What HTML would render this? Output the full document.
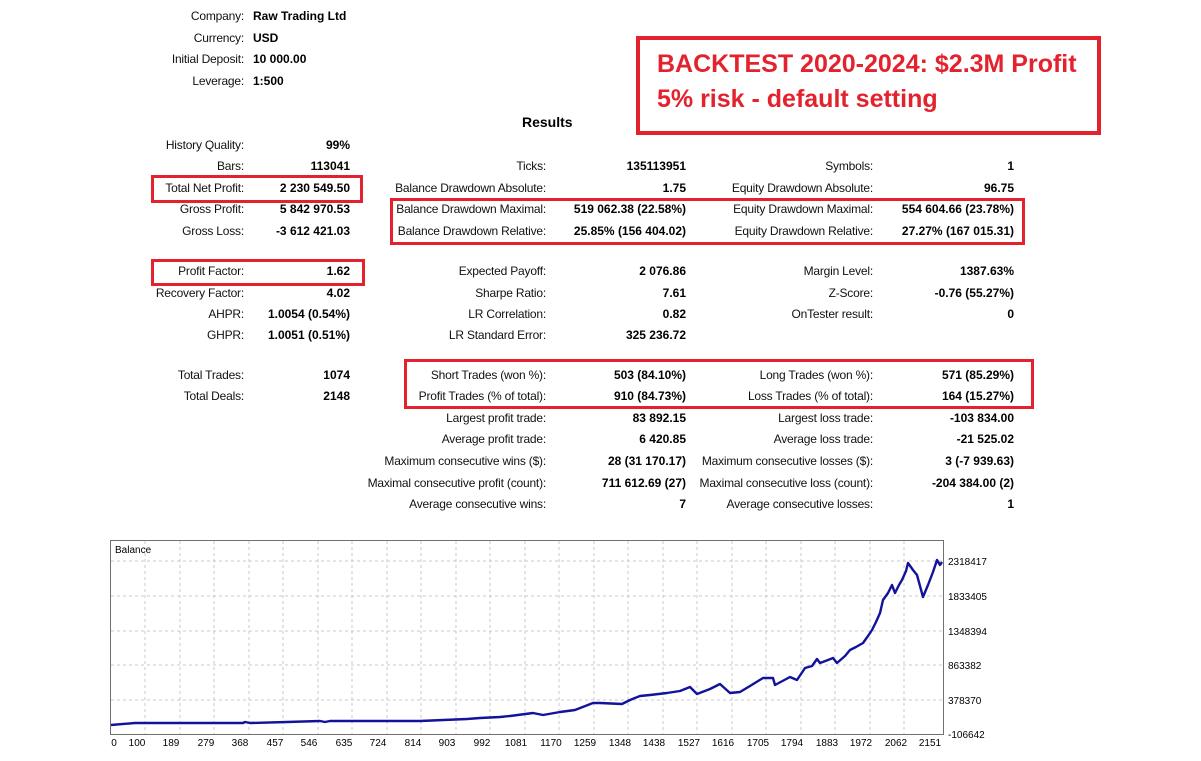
<!DOCTYPE html>
<html><head><meta charset="utf-8"><style>
body{margin:0;width:1201px;height:761px;background:#fff;position:relative;overflow:hidden;font-family:"Liberation Sans",Tahoma,sans-serif;font-size:12px;color:#000}
.l,.v{position:absolute;white-space:nowrap;text-align:right;line-height:14px}
.l{letter-spacing:-0.2px;color:#111}
.v{font-weight:bold}
.box{position:absolute;border:3px solid #e3222e;box-sizing:border-box}
</style></head><body>
<div class="l" style="right:957px;top:9px">Company:</div><div class="v" style="left:253px;top:9px;text-align:left">Raw Trading Ltd</div>
<div class="l" style="right:957px;top:31px">Currency:</div><div class="v" style="left:253px;top:31px;text-align:left">USD</div>
<div class="l" style="right:957px;top:52px">Initial Deposit:</div><div class="v" style="left:253px;top:52px;text-align:left">10 000.00</div>
<div class="l" style="right:957px;top:74px">Leverage:</div><div class="v" style="left:253px;top:74px;text-align:left">1:500</div>
<div class="v" style="left:522px;top:115px;font-size:14px;text-align:left">Results</div>

<div class="box" style="left:636px;top:36px;width:465px;height:99px;border-width:4px"></div>
<div style="position:absolute;left:657px;top:47px;color:#e3222e;font-weight:bold;font-size:25px;line-height:35px;font-family:'Liberation Sans',sans-serif">BACKTEST 2020-2024: $2.3M Profit<br>5% risk - default setting</div>

<div class="box" style="left:151px;top:175px;width:212px;height:28px"></div>
<div class="box" style="left:151px;top:259px;width:214px;height:27px"></div>
<div class="box" style="left:390px;top:198px;width:635px;height:47px"></div>
<div class="box" style="left:404px;top:359px;width:630px;height:50px"></div>

<!-- col1 -->
<div class="l" style="right:957px;top:138px">History Quality:</div><div class="v" style="right:851px;top:138px">99%</div>
<div class="l" style="right:957px;top:159px">Bars:</div><div class="v" style="right:851px;top:159px">113041</div>
<div class="l" style="right:957px;top:181px">Total Net Profit:</div><div class="v" style="right:851px;top:181px">2 230 549.50</div>
<div class="l" style="right:957px;top:202px">Gross Profit:</div><div class="v" style="right:851px;top:202px">5 842 970.53</div>
<div class="l" style="right:957px;top:224px">Gross Loss:</div><div class="v" style="right:851px;top:224px">-3 612 421.03</div>
<div class="l" style="right:957px;top:264px">Profit Factor:</div><div class="v" style="right:851px;top:264px">1.62</div>
<div class="l" style="right:957px;top:286px">Recovery Factor:</div><div class="v" style="right:851px;top:286px">4.02</div>
<div class="l" style="right:957px;top:307px">AHPR:</div><div class="v" style="right:851px;top:307px">1.0054 (0.54%)</div>
<div class="l" style="right:957px;top:328px">GHPR:</div><div class="v" style="right:851px;top:328px">1.0051 (0.51%)</div>
<div class="l" style="right:957px;top:368px">Total Trades:</div><div class="v" style="right:851px;top:368px">1074</div>
<div class="l" style="right:957px;top:389px">Total Deals:</div><div class="v" style="right:851px;top:389px">2148</div>

<!-- col2 -->
<div class="l" style="right:655px;top:159px">Ticks:</div><div class="v" style="right:515px;top:159px">135113951</div>
<div class="l" style="right:655px;top:181px">Balance Drawdown Absolute:</div><div class="v" style="right:515px;top:181px">1.75</div>
<div class="l" style="right:655px;top:202px">Balance Drawdown Maximal:</div><div class="v" style="right:515px;top:202px">519 062.38 (22.58%)</div>
<div class="l" style="right:655px;top:224px">Balance Drawdown Relative:</div><div class="v" style="right:515px;top:224px">25.85% (156 404.02)</div>
<div class="l" style="right:655px;top:264px">Expected Payoff:</div><div class="v" style="right:515px;top:264px">2 076.86</div>
<div class="l" style="right:655px;top:286px">Sharpe Ratio:</div><div class="v" style="right:515px;top:286px">7.61</div>
<div class="l" style="right:655px;top:307px">LR Correlation:</div><div class="v" style="right:515px;top:307px">0.82</div>
<div class="l" style="right:655px;top:328px">LR Standard Error:</div><div class="v" style="right:515px;top:328px">325 236.72</div>
<div class="l" style="right:655px;top:368px">Short Trades (won %):</div><div class="v" style="right:515px;top:368px">503 (84.10%)</div>
<div class="l" style="right:655px;top:389px">Profit Trades (% of total):</div><div class="v" style="right:515px;top:389px">910 (84.73%)</div>
<div class="l" style="right:655px;top:411px">Largest profit trade:</div><div class="v" style="right:515px;top:411px">83 892.15</div>
<div class="l" style="right:655px;top:432px">Average profit trade:</div><div class="v" style="right:515px;top:432px">6 420.85</div>
<div class="l" style="right:655px;top:454px">Maximum consecutive wins ($):</div><div class="v" style="right:515px;top:454px">28 (31 170.17)</div>
<div class="l" style="right:655px;top:476px">Maximal consecutive profit (count):</div><div class="v" style="right:515px;top:476px">711 612.69 (27)</div>
<div class="l" style="right:655px;top:497px">Average consecutive wins:</div><div class="v" style="right:515px;top:497px">7</div>

<!-- col3 -->
<div class="l" style="right:328px;top:159px">Symbols:</div><div class="v" style="right:187px;top:159px">1</div>
<div class="l" style="right:328px;top:181px">Equity Drawdown Absolute:</div><div class="v" style="right:187px;top:181px">96.75</div>
<div class="l" style="right:328px;top:202px">Equity Drawdown Maximal:</div><div class="v" style="right:187px;top:202px">554 604.66 (23.78%)</div>
<div class="l" style="right:328px;top:224px">Equity Drawdown Relative:</div><div class="v" style="right:187px;top:224px">27.27% (167 015.31)</div>
<div class="l" style="right:328px;top:264px">Margin Level:</div><div class="v" style="right:187px;top:264px">1387.63%</div>
<div class="l" style="right:328px;top:286px">Z-Score:</div><div class="v" style="right:187px;top:286px">-0.76 (55.27%)</div>
<div class="l" style="right:328px;top:307px">OnTester result:</div><div class="v" style="right:187px;top:307px">0</div>
<div class="l" style="right:328px;top:368px">Long Trades (won %):</div><div class="v" style="right:187px;top:368px">571 (85.29%)</div>
<div class="l" style="right:328px;top:389px">Loss Trades (% of total):</div><div class="v" style="right:187px;top:389px">164 (15.27%)</div>
<div class="l" style="right:328px;top:411px">Largest loss trade:</div><div class="v" style="right:187px;top:411px">-103 834.00</div>
<div class="l" style="right:328px;top:432px">Average loss trade:</div><div class="v" style="right:187px;top:432px">-21 525.02</div>
<div class="l" style="right:328px;top:454px">Maximum consecutive losses ($):</div><div class="v" style="right:187px;top:454px">3 (-7 939.63)</div>
<div class="l" style="right:328px;top:476px">Maximal consecutive loss (count):</div><div class="v" style="right:187px;top:476px">-204 384.00 (2)</div>
<div class="l" style="right:328px;top:497px">Average consecutive losses:</div><div class="v" style="right:187px;top:497px">1</div>

<svg style="position:absolute;left:0;top:0" width="1201" height="761" font-family="Liberation Sans, Tahoma, sans-serif" font-size="10">
<g stroke="#c8c8c8" stroke-dasharray="3,3" stroke-width="1">
<line x1="111" y1="561" x2="943" y2="561"/><line x1="111" y1="596" x2="943" y2="596"/><line x1="111" y1="631" x2="943" y2="631"/><line x1="111" y1="665" x2="943" y2="665"/><line x1="111" y1="700" x2="943" y2="700"/>
<line x1="145" y1="541" x2="145" y2="734"/><line x1="180" y1="541" x2="180" y2="734"/><line x1="214" y1="541" x2="214" y2="734"/><line x1="249" y1="541" x2="249" y2="734"/><line x1="283" y1="541" x2="283" y2="734"/><line x1="318" y1="541" x2="318" y2="734"/><line x1="352" y1="541" x2="352" y2="734"/><line x1="387" y1="541" x2="387" y2="734"/><line x1="421" y1="541" x2="421" y2="734"/><line x1="456" y1="541" x2="456" y2="734"/><line x1="490" y1="541" x2="490" y2="734"/><line x1="525" y1="541" x2="525" y2="734"/><line x1="559" y1="541" x2="559" y2="734"/><line x1="594" y1="541" x2="594" y2="734"/><line x1="628" y1="541" x2="628" y2="734"/><line x1="663" y1="541" x2="663" y2="734"/><line x1="697" y1="541" x2="697" y2="734"/><line x1="732" y1="541" x2="732" y2="734"/><line x1="766" y1="541" x2="766" y2="734"/><line x1="801" y1="541" x2="801" y2="734"/><line x1="835" y1="541" x2="835" y2="734"/><line x1="870" y1="541" x2="870" y2="734"/><line x1="904" y1="541" x2="904" y2="734"/>
</g>
<rect x="110.5" y="540.5" width="833" height="194" fill="none" stroke="#707070"/>
<text x="115" y="553" font-size="10">Balance</text>
<polyline fill="none" stroke="#12129a" stroke-width="2.4" stroke-linejoin="round" points="111,725 135,723 243,723 245,722 250,723 287,722 320,721 325,722 330,721 420,721 467,719 480,718 500,717 510,716 533,713 543,715 560,712 575,710 593,703 600,703 622,704 630,700 640,696 650,695 667,693 680,691 690,687 697,694 710,689 720,684 730,693 740,692 750,686 763,678 773,678 775,685 790,677 797,680 805,668 812,666 817,659 820,663 828,660 833,658 837,663 845,656 850,650 856,647 863,643 868,636 872,630 876,622 880,613 883,600 888,593 892,585 895,593 899,585 902,580 906,571 908,563 913,570 917,575 923,597 928,585 933,572 937,560 940,565 942,562"/>
<g fill="#000" font-size="10">
<text x="948" y="565">2318417</text><text x="948" y="600">1833405</text><text x="948" y="635">1348394</text><text x="948" y="669">863382</text><text x="948" y="704">378370</text><text x="948" y="738">-106642</text>
</g>
<g fill="#000" font-size="10" text-anchor="middle">
<text x="114" y="746">0</text><text x="137" y="746">100</text><text x="171" y="746">189</text><text x="206" y="746">279</text><text x="240" y="746">368</text><text x="275" y="746">457</text><text x="309" y="746">546</text><text x="344" y="746">635</text><text x="378" y="746">724</text><text x="413" y="746">814</text><text x="447" y="746">903</text><text x="482" y="746">992</text><text x="516" y="746">1081</text><text x="551" y="746">1170</text><text x="585" y="746">1259</text><text x="620" y="746">1348</text><text x="654" y="746">1438</text><text x="689" y="746">1527</text><text x="723" y="746">1616</text><text x="758" y="746">1705</text><text x="792" y="746">1794</text><text x="827" y="746">1883</text><text x="861" y="746">1972</text><text x="896" y="746">2062</text><text x="930" y="746">2151</text>
</g>
</svg>
</body></html>
